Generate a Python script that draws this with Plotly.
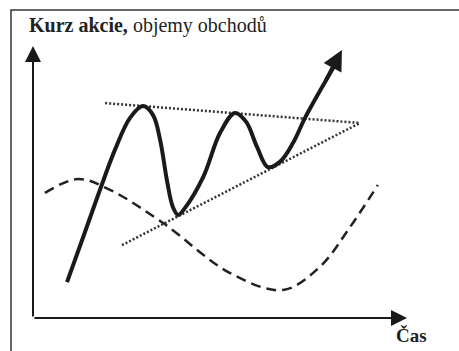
import plotly.graph_objects as go

# Data (time 0-100, value 0-100 in chart units)
price_t = [9.1, 13.9, 17.9, 21.9, 25.9, 29.4, 32.1, 34.0, 35.8, 37.4, 38.8, 40.6,
           45.5, 50.0, 54.0, 57.0, 59.9, 62.8, 66.0, 69.5, 72.7, 78.1]
price_v = [13.2, 31.6, 47.1, 61.8, 73.5, 77.9, 74.6, 65.4, 50.7, 40.8, 37.9, 40.4,
           51.8, 68.0, 75.4, 72.1, 62.9, 55.5, 57.4, 64.3, 73.5, 86.8]
price_tip = (82.6, 98.5)

volume_t = [3.2, 12.0, 20.6, 34.8, 52.7, 66.8, 76.7, 84.8, 92.2]
volume_v = [46.0, 51.1, 47.1, 34.9, 16.5, 10.3, 18.8, 33.5, 48.9]

upper_t = [19.3, 87.4]
upper_v = [79.0, 71.7]
lower_t = [23.8, 87.4]
lower_v = [26.8, 71.7]

title_bold = "Kurz akcie,"
title_rest = " objemy obchodů"
x_label = "Čas"

W, H = 459, 351
# pixel mapping: origin at (33,318); t=100 at px 407; v=100 at py 46
sx = (407 - 33) / 100.0
sy = (318 - 46) / 100.0
x_range = [-33 / sx, (W - 33) / sx]
y_range = [-(H - 318) / sy, 318 / sy]

fig = go.Figure()

fig.add_trace(go.Scatter(x=volume_t, y=volume_v, mode="lines", line_shape="spline",
                         line=dict(color="#222", width=2.5, dash="10px,6px"), hoverinfo="skip"))
fig.add_trace(go.Scatter(x=upper_t, y=upper_v, mode="lines",
                         line=dict(color="#333", width=2.5, dash="2px,2px"), hoverinfo="skip"))
fig.add_trace(go.Scatter(x=lower_t, y=lower_v, mode="lines",
                         line=dict(color="#333", width=2.5, dash="2px,2px"), hoverinfo="skip"))
fig.add_trace(go.Scatter(x=price_t + [price_tip[0] - 1.0], y=price_v + [price_tip[1] - 3.5],
                         mode="lines", line_shape="spline",
                         line=dict(color="#1a1a1a", width=4), hoverinfo="skip"))

# price arrow head
fig.add_annotation(x=price_tip[0], y=price_tip[1], ax=price_t[-1], ay=price_v[-1],
                   xref="x", yref="y", axref="x", ayref="y", text="",
                   showarrow=True, arrowhead=2, arrowsize=1.0, arrowwidth=4, arrowcolor="#1a1a1a")

# axes arrows
fig.add_annotation(x=0, y=100, ax=0, ay=0, xref="x", yref="y", axref="x", ayref="y", text="",
                   showarrow=True, arrowhead=2, arrowsize=1.6, arrowwidth=2, arrowcolor="#1a1a1a")
fig.add_annotation(x=100, y=0, ax=0, ay=0, xref="x", yref="y", axref="x", ayref="y", text="",
                   showarrow=True, arrowhead=2, arrowsize=1.6, arrowwidth=2, arrowcolor="#1a1a1a")

# frame
fig.add_shape(type="rect", xref="paper", yref="paper", x0=11 / W, x1=1.05, y0=-0.05, y1=1 - 10 / H,
              line=dict(color="#333", width=1.5))

fig.add_annotation(xref="paper", yref="paper", x=27 / W, y=1 - 25 / H, xanchor="left", yanchor="middle",
                   text="<b>" + title_bold + "</b>" + title_rest, showarrow=False,
                   font=dict(family="Liberation Serif", size=20, color="#222"))
fig.add_annotation(xref="paper", yref="paper", x=411 / W, y=1 - 335 / H, xanchor="center", yanchor="middle",
                   text="<b>" + x_label + "</b>", showarrow=False,
                   font=dict(family="Liberation Serif", size=19, color="#222"))

fig.update_layout(width=W, height=H, margin=dict(l=0, r=0, t=0, b=0),
                  paper_bgcolor="white", plot_bgcolor="white", showlegend=False,
                  xaxis=dict(range=x_range, visible=False, fixedrange=True),
                  yaxis=dict(range=y_range, visible=False, fixedrange=True))

fig.write_html("out.html", config={"displayModeBar": False},
               post_script="document.body.style.margin='0';document.body.style.overflow='hidden';")
